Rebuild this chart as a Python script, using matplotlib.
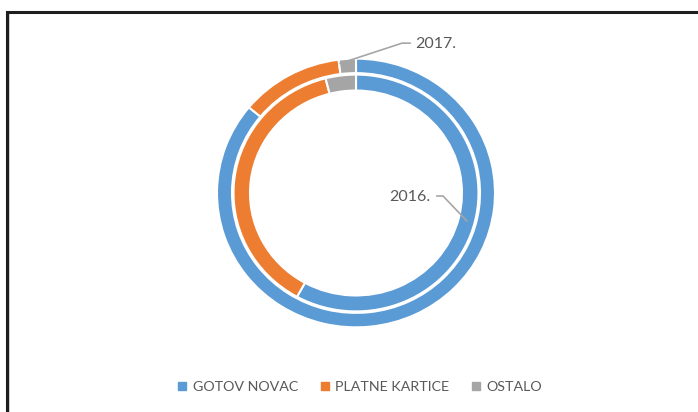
import matplotlib.pyplot as plt
from matplotlib.patches import Rectangle
from matplotlib.lines import Line2D
import numpy as np

# data (percent shares)
categories = ['GOTOV NOVAC', 'PLATNE KARTICE', 'OSTALO']
share_2016 = [58, 38, 4]
share_2017 = [86, 12, 2]
colors = ['#5B9BD5', '#ED7D31', '#A5A5A5']
txt = '#595959'

plt.rcParams['font.family'] = ['Lato', 'DejaVu Sans']

fig = plt.figure(figsize=(6.98, 4.12), dpi=100)
fig.patch.set_facecolor('white')

# frame around the chart (cut off at right and bottom)
fig.patches.append(Rectangle((8.5 / 698, -0.2), 1.2, 1.2 - 13 / 412, transform=fig.transFigure,
                             fill=False, edgecolor='#d0d0d0', lw=1.2, zorder=0))
fig.patches.append(Rectangle((7.5 / 698, -0.2), 1.2, 1.2 - 12 / 412, transform=fig.transFigure,
                             fill=False, edgecolor='#1e1e1e', lw=2.2, zorder=1))

ax = fig.add_axes([206 / 698, 74 / 412, 300 / 698, 290 / 412])

r_out, w = 139, 15
r_in = 122.5

w17, _ = ax.pie(share_2017, radius=r_out, colors=colors, startangle=90, counterclock=False,
                wedgeprops=dict(width=w, edgecolor='white', linewidth=1.5))
w16, _ = ax.pie(share_2016, radius=r_in, colors=colors, startangle=90, counterclock=False,
                wedgeprops=dict(width=16.5, edgecolor='white', linewidth=1.5))
ax.set_aspect('auto')
ax.set_xlim(-150, 150)
ax.set_ylim(-150, 150)
ax.axis('off')

# leader for 2017 (outer ring, grey wedge)
th = np.deg2rad(w17[2].theta2 - 0.5)
x0, y0 = (r_out - 4) * np.cos(th), (r_out - 4) * np.sin(th)
ax.plot([x0, 46, 54], [y0, 155, 155], color='#a6a6a6', lw=1.2, clip_on=False)
ax.text(59, 154, '2017.', ha='left', va='center', fontsize=11.5, color=txt)

# leader for 2016 (inner ring, blue wedge)
th = np.deg2rad(-14.6)
x1, y1 = 114.5 * np.cos(th), 114.5 * np.sin(th)
ax.plot([x1, 87, 81], [y1, -3.1, -3.1], color='#a6a6a6', lw=1.2, clip_on=False)
ax.text(74, -4.1, '2016.', ha='right', va='center', fontsize=11.5, color=txt)

handles = [Line2D([], [], marker='s', linestyle='none', markersize=5.5,
                  markerfacecolor=c, markeredgecolor=c) for c in colors]
fig.legend(handles, categories, loc='center', bbox_to_anchor=(360 / 698, 1 - 387 / 412),
           ncol=3, frameon=False, fontsize=10.3, labelcolor=txt, handlelength=0.6,
           handletextpad=0.45, columnspacing=1.55)

fig.savefig('out.png', dpi=100)
